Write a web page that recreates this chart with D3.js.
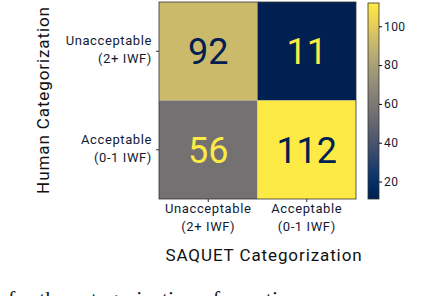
<!DOCTYPE html>
<html>
<head>
<meta charset="utf-8">
<script src="https://cdn.jsdelivr.net/npm/d3@7"></script>
<style>
  body { margin: 0; background: #fff; }
  svg { display: block; }
</style>
</head>
<body>
<div id="chart"></div>
<script>
var predicted = ["Unacceptable\n(2+ IWF)", "Acceptable\n(0-1 IWF)"];
var actual = ["Unacceptable\n(2+ IWF)", "Acceptable\n(0-1 IWF)"];
var counts = [[92, 11], [56, 112]];
var barTicks = [20, 40, 60, 80, 100];

var W = 428, H = 296;
var font = "Roboto, 'DejaVu Sans', sans-serif";
var dark = "#111a33";

var svg = d3.select("#chart").append("svg")
  .attr("width", W).attr("height", H);

var cells = [];
counts.forEach(function(row, i) {
  row.forEach(function(v, j) { cells.push({r: i, c: j, v: v}); });
});
var vmin = d3.min(cells, d => d.v), vmax = d3.max(cells, d => d.v);
var color = d3.scaleSequential(d3.interpolateCividis).domain([vmin, vmax]);

var x = d3.scaleBand().domain(d3.range(2)).range([159, 356]);
var y = d3.scaleBand().domain(d3.range(2)).range([2, 199]);

svg.selectAll(".cell").data(cells).enter().append("rect")
  .attr("x", d => x(d.c)).attr("y", d => y(d.r))
  .attr("width", x.bandwidth()).attr("height", y.bandwidth())
  .attr("fill", d => color(d.v));

svg.selectAll(".val").data(cells).enter().append("text")
  .attr("x", d => x(d.c) + x.bandwidth() / 2)
  .attr("y", d => y(d.r) + y.bandwidth() / 2 + 13)
  .attr("text-anchor", "middle")
  .style("font-family", font)
  .style("font-size", "36px")
  .style("fill", d => d.v > (vmin + vmax) / 2 ? color(vmin) : color(vmax))
  .text(d => d.v);

// frame
svg.append("rect")
  .attr("x", 159).attr("y", 2).attr("width", 197).attr("height", 197)
  .attr("fill", "none").attr("stroke", "#333").attr("stroke-width", 0.8);

// x tick marks and labels
actual.forEach(function(lab, j) {
  var cx = x(j) + x.bandwidth() / 2;
  svg.append("line").attr("x1", cx).attr("x2", cx).attr("y1", 199).attr("y2", 202)
    .attr("stroke", "#333");
  var t = svg.append("text").attr("text-anchor", "middle")
    .style("font-family", font).style("font-size", "13px")
    .style("letter-spacing", "0.6px").style("fill", dark);
  lab.split("\n").forEach(function(s, k) {
    t.append("tspan").attr("x", cx).attr("y", 213 + k * 18).text(s);
  });
});

// y tick marks and labels
predicted.forEach(function(lab, i) {
  var cy = y(i) + y.bandwidth() / 2;
  svg.append("line").attr("x1", 156).attr("x2", 159).attr("y1", cy).attr("y2", cy)
    .attr("stroke", "#333");
  var t = svg.append("text").attr("text-anchor", "end")
    .style("font-family", font).style("font-size", "13px")
    .style("letter-spacing", "0.6px").style("fill", dark);
  lab.split("\n").forEach(function(s, k) {
    t.append("tspan").attr("x", 152).attr("y", cy - 6 + k * 18).text(s);
  });
});

// axis titles
svg.append("text")
  .attr("x", 264).attr("y", 261)
  .attr("text-anchor", "middle")
  .style("font-family", font).style("font-size", "17px")
  .style("letter-spacing", "0.9px").style("fill", "#111")
  .text("SAQUET Categorization");

svg.append("text")
  .attr("transform", "translate(49,100) rotate(-90)")
  .attr("text-anchor", "middle")
  .style("font-family", font).style("font-size", "17px")
  .style("letter-spacing", "0.9px").style("fill", "#111")
  .text("Human Categorization");

// colorbar
var cb = {x: 368, w: 11, top: 3, bottom: 199};
var cy = d3.scaleLinear().domain([vmin, vmax]).range([cb.bottom, cb.top]);
var defs = svg.append("defs");
var grad = defs.append("linearGradient").attr("id", "cbg")
  .attr("x1", 0).attr("y1", 1).attr("x2", 0).attr("y2", 0);
d3.range(0, 1.0001, 0.05).forEach(function(t) {
  grad.append("stop").attr("offset", t).attr("stop-color", d3.interpolateCividis(t));
});
svg.append("rect")
  .attr("x", cb.x).attr("y", cb.top).attr("width", cb.w).attr("height", cb.bottom - cb.top)
  .attr("fill", "url(#cbg)").attr("stroke", "#333").attr("stroke-width", 0.8);

var cbAxis = svg.append("g")
  .attr("transform", "translate(" + (cb.x + cb.w) + ",0)")
  .call(d3.axisRight(cy).tickValues(barTicks).tickSize(3).tickPadding(2));
cbAxis.select(".domain").remove();
cbAxis.selectAll("text")
  .style("font-family", font).style("font-size", "12px")
  .style("letter-spacing", "0.4px").style("fill", dark);

// caption line below the figure, cut by the page edge as in the source
svg.append("text")
  .attr("x", 8).attr("y", 306)
  .style("font-family", "'Liberation Serif', 'DejaVu Serif', serif")
  .style("font-size", "22px").style("fill", "#222")
  .text("for the categorization of questions");
</script>
</body>
</html>
